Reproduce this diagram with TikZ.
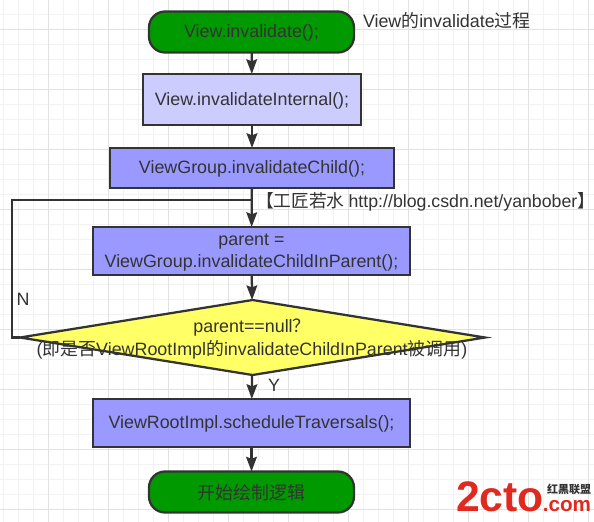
\documentclass[tikz,border=0pt]{standalone}
\usepackage{fontspec}
\setmainfont{Liberation Sans}
\newfontfamily\cjk{Noto Sans CJK SC}
\usetikzlibrary{shapes.geometric,arrows.meta}
\definecolor{ink}{HTML}{333333}
\definecolor{gridminor}{HTML}{F2F2F2}
\definecolor{gridmajor}{HTML}{E2E2E2}
\definecolor{startfill}{HTML}{009900}
\definecolor{lightbox}{HTML}{CCCCFF}
\definecolor{darkbox}{HTML}{9999FF}
\definecolor{decision}{HTML}{FFFF66}
\definecolor{logored}{HTML}{E12A1F}
\tikzset{
  x=0.75pt,y=-0.75pt,
  every node/.style={inner sep=0pt,outer sep=0pt,text=ink,font=\fontsize{13.4}{16.8}\selectfont,align=center},
  shapeline/.style={draw=ink,line width=1.7pt},
  terminal/.style={shapeline,rectangle,rounded corners=12pt,fill=startfill,minimum width=153.75pt,minimum height=30.75pt,text depth=0.8pt},
  lightstep/.style={shapeline,rectangle,fill=lightbox,text depth=0.8pt},
  darkstep/.style={shapeline,rectangle,fill=darkbox,text depth=0.8pt},
  flow/.style={draw=ink,line width=1.7pt,-{Stealth[length=11pt,width=8pt,inset=1.5pt]}}
}
\begin{document}
\begin{tikzpicture}
\useasboundingbox (0,0) rectangle (594,522);
\fill[white] (0,0) rectangle (594,522);
% grid
\foreach \gx in {3,18,...,588} \draw[gridminor,line width=0.75pt] (\gx,0) -- (\gx,522);
\foreach \gy in {14,29,...,514} \draw[gridminor,line width=0.75pt] (0,\gy) -- (594,\gy);
\foreach \gx in {48,108,...,588} \draw[gridmajor,line width=0.75pt] (\gx,0) -- (\gx,522);
\foreach \gy in {29,89,...,509} \draw[gridmajor,line width=0.75pt] (0,\gy) -- (594,\gy);
% nodes
\node[terminal] (start) at (251.5,32) {View.invalidate();};
\node[lightstep,minimum width=163.5pt,minimum height=38.25pt] (internal) at (252,99.5) {View.invalidateInternal();};
\node[darkstep,minimum width=213pt,minimum height=30pt] (child) at (252,168) {ViewGroup.invalidateChild();};
\node[darkstep,minimum width=237.75pt,minimum height=36pt] (inparent) at (251.5,251) {parent =\\ViewGroup.invalidateChildInParent();};
\node[shapeline,diamond,fill=decision,aspect=6.2,minimum width=348.75pt,minimum height=56.25pt] (dec) at (252.5,337.5) {};
\node (dectext) at (252,339) {parent==null{\cjk ？}\\(\hbox{\cjk 即是否}ViewRootImpl{\cjk 的}invalidateChildInParent{\cjk 被调用})};
\node[darkstep,minimum width=237.75pt,minimum height=36pt] (sched) at (251.5,423) {ViewRootImpl.scheduleTraversals();};
\node[terminal] (finish) at (251.5,492) {\cjk 开始绘制逻辑};
% labels
\node[anchor=west] (title) at (363,21) {View{\cjk 的}invalidate{\cjk 过程}};
\node[anchor=west,font=\fontsize{13.3}{16.8}\selectfont] (site) at (256,202) {{\cjk 【工匠若水 }http://blog.csdn.net/yanbober{\cjk 】}};
\node (nlabel) at (23,299) {N};
\node (ylabel) at (274,385) {Y};
% watermark
\node[anchor=base west,text=logored,font=\fontsize{32}{33}\selectfont\bfseries] (logo) at (456,511) {2cto};
\node[anchor=base east,text=logored,font=\fontsize{15.5}{16}\selectfont\bfseries] (logocom) at (591,511) {.com};
\node[anchor=base east,text=ink,font=\fontsize{8.25}{9}\selectfont\bfseries\cjk] (logocn) at (591,493) {红黑联盟};
% connectors
\coordinate (loopa) at (12,337.5);
\coordinate (loopb) at (12,200);
\coordinate (loopc) at (inparent.north |- loopb);
\draw[flow] (start) -- (internal);
\draw[flow] (internal) -- (child);
\draw[flow] (child) -- (inparent);
\draw[flow] (inparent) -- (dec);
\draw[flow] (dec) -- (sched);
\draw[flow] (sched) -- (finish);
\draw[shapeline] (dec.west) -- (loopa) -- (loopb) -- (loopc);
\end{tikzpicture}
\end{document}
